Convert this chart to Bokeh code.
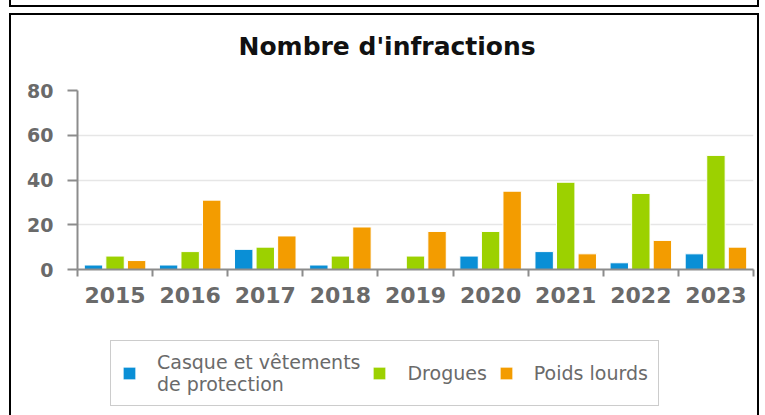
from bokeh.plotting import figure
from bokeh.models import FixedTicker, Legend, LegendItem, ColumnDataSource, Range1d, InlineStyleSheet
from bokeh.layouts import column
from bokeh.transform import dodge
from bokeh.embed import file_html
from bokeh.resources import INLINE

years = [2015, 2016, 2017, 2018, 2019, 2020, 2021, 2022, 2023]
casque = [2, 2, 9, 2, 0, 6, 8, 3, 7]
drogues = [6, 8, 10, 6, 6, 17, 39, 34, 51]
poids_lourds = [4, 31, 15, 19, 17, 35, 7, 13, 10]
series_labels = ["Casque et vêtements\nde protection", "Drogues", "Poids lourds"]
y_ticks = [0, 20, 40, 60, 80]

colors = ["#0a8fd6", "#9cd100", "#f39c00"]

src = ColumnDataSource(dict(year=years, casque=casque, drogues=drogues, poids=poids_lourds))

p = figure(frame_width=676, frame_height=179, output_backend="svg", toolbar_location=None,
           x_range=Range1d(years[0] - 0.5, years[-1] + 0.5), y_range=Range1d(0, 80),
           min_border_left=77, min_border_right=12, min_border_top=90, min_border_bottom=56,
           title="Nombre d'infractions")
p.outline_line_color = None
p.background_fill_color = "white"
p.border_fill_color = "white"

p.title.text_font = "DejaVu Sans"
p.title.text_font_size = "25px"
p.title.text_font_style = "bold"
p.title.text_color = "#111111"
p.title.align = "left"
p.title.vertical_align = "bottom"
p.title.offset = 161
p.title.standoff = 59

off = 0.287
w = 0.245
series_cols = ["casque", "drogues", "poids"]
for k, (col, dx) in enumerate(zip(series_cols, [-off, 0, off])):
    p.vbar(x=dodge("year", dx, range=p.x_range), top=col, width=w, source=src,
           fill_color=colors[k], line_color="white", line_width=1)

axis_color = "#8c8c8c"
label_color = "#6a6a6a"
xa = p.xaxis[0]
xa.ticker = FixedTicker(ticks=years, minor_ticks=[y - 0.5 for y in years] + [years[-1] + 0.5])
xa.major_tick_line_color = None
xa.major_tick_out = 0
xa.major_tick_in = 0
xa.minor_tick_out = 7
xa.minor_tick_in = 0
xa.minor_tick_line_color = axis_color
xa.minor_tick_line_width = 2
xa.axis_line_color = axis_color
xa.axis_line_width = 2
xa.major_label_text_font = "DejaVu Sans"
xa.major_label_text_font_style = "bold"
xa.major_label_text_font_size = "22px"
xa.major_label_text_color = label_color
xa.major_label_standoff = 10

ya = p.yaxis[0]
ya.ticker = FixedTicker(ticks=y_ticks)
ya.minor_tick_line_color = None
ya.major_tick_out = 10
ya.major_tick_in = 0
ya.major_tick_line_color = axis_color
ya.major_tick_line_width = 2
ya.axis_line_color = axis_color
ya.axis_line_width = 2
ya.major_label_text_font = "DejaVu Sans"
ya.major_label_text_font_style = "bold"
ya.major_label_text_font_size = "19px"
ya.major_label_text_color = label_color
ya.major_label_standoff = 14

p.xgrid.grid_line_color = None
p.ygrid.ticker = FixedTicker(ticks=y_ticks[1:])
p.ygrid.grid_line_color = "#e6e6e6"
p.ygrid.grid_line_width = 1.5

# legend strip below the chart; its renderers use the same data, drawn out of view
pl = figure(frame_width=765, frame_height=90, output_backend="svg", toolbar_location=None,
            x_range=Range1d(0, 1), y_range=Range1d(0, 1), x_axis_type=None, y_axis_type=None,
            min_border=0)
pl.outline_line_color = None
pl.grid.visible = False
pl.background_fill_color = "white"
pl.border_fill_color = "white"
leg_r = [pl.vbar(x="year", top=col, width=w, source=src, fill_color=colors[k],
                 line_color="white", line_width=1)
         for k, col in enumerate(series_cols)]

legend = Legend(items=[LegendItem(label=lab, renderers=[r]) for lab, r in zip(series_labels, leg_r)],
                orientation="horizontal", location=(110, 9))
legend.label_text_font = "DejaVu Sans"
legend.label_text_font_size = "19px"
legend.label_text_color = "#6a6a6a"
legend.glyph_width = 16
legend.glyph_height = 16
legend.label_standoff = 20
legend.spacing = 11
legend.padding = 10
legend.margin = 0
legend.border_line_color = "#9a9a9a"
legend.border_line_width = 1.5
legend.background_fill_color = "white"
legend.background_fill_alpha = 1
pl.add_layout(legend, "center")

layout = column(p, pl, spacing=0)
# page frame lines seen in the reference screenshot
layout.stylesheets = [InlineStyleSheet(css="""
:host::before { content: ""; position: absolute; box-sizing: border-box; left: 9px; top: -20px;
  width: 750px; height: 27px; border: 2px solid #000; pointer-events: none; z-index: 50; }
:host::after { content: ""; position: absolute; box-sizing: border-box; left: 9px; top: 13px;
  width: 750px; height: 402px; border: 2px solid #000; border-bottom: none; pointer-events: none; z-index: 50; }
""")]

open("out.html", "w").write(file_html(layout, INLINE))
